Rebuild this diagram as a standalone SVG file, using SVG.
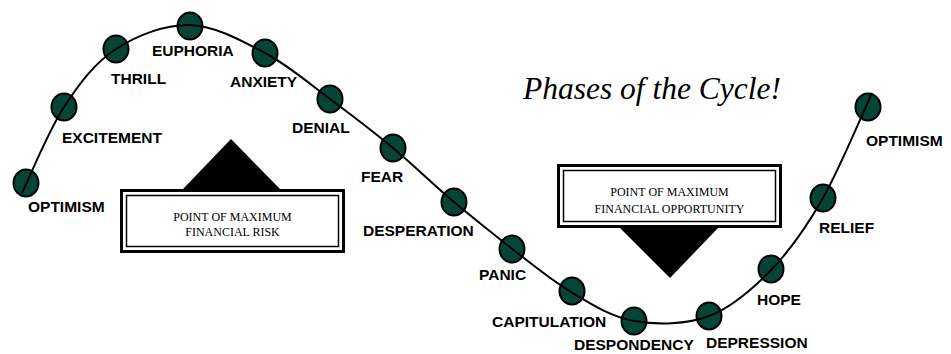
<svg xmlns="http://www.w3.org/2000/svg" width="951" height="354" viewBox="0 0 951 354">
<style>
.dot{fill:#064536;stroke:#000;stroke-width:2}
.lbl{font-family:"Liberation Sans",Arial,sans-serif;font-weight:bold;font-size:15.5px;fill:#000}
.box{font-family:"Liberation Serif","Times New Roman",serif;font-size:12px;fill:#000;text-anchor:middle}
.title{font-family:"Liberation Serif","Times New Roman",serif;font-style:italic;font-size:31.5px;fill:#000}
.outer{fill:#fff;stroke:#000;stroke-width:3}
.inner{fill:none;stroke:#000;stroke-width:1.5}
.curve{fill:none;stroke:#000;stroke-width:2}
</style>
<rect width="951" height="354" fill="#fff"/>
<text class="title" x="523" y="99">Phases of the Cycle!</text>

<g id="risk">
<polygon points="183,189 231,139 280,189" fill="#000"/>
<rect class="outer" x="121.5" y="190.5" width="222" height="61"/>
<rect class="inner" x="126.5" y="195.5" width="212" height="51"/>
<text class="box" x="232.5" y="221">POINT OF MAXIMUM</text>
<text class="box" x="232.5" y="236">FINANCIAL RISK</text>
</g>
<g id="opportunity">
<polygon points="620,228 718,228 670,278" fill="#000"/>
<rect class="outer" x="558.5" y="165.5" width="222" height="61"/>
<rect class="inner" x="563.5" y="170.5" width="212" height="51"/>
<text class="box" x="669.5" y="196">POINT OF MAXIMUM</text>
<text class="box" x="669.5" y="213">FINANCIAL OPPORTUNITY</text>
</g>

<g id="optimism1"><ellipse class="dot" cx="26" cy="183" rx="12.5" ry="13.5"/><text class="lbl" x="28" y="212">OPTIMISM</text></g>
<g id="excitement"><ellipse class="dot" cx="64" cy="107" rx="12.5" ry="13.5"/><text class="lbl" x="62" y="143">EXCITEMENT</text></g>
<g id="thrill"><ellipse class="dot" cx="116" cy="49" rx="12.5" ry="13.5"/><text class="lbl" x="111" y="84">THRILL</text></g>
<g id="euphoria"><ellipse class="dot" cx="190" cy="26" rx="12.5" ry="13.5"/><text class="lbl" x="152" y="56">EUPHORIA</text></g>
<g id="anxiety"><ellipse class="dot" cx="265" cy="53" rx="12.5" ry="13.5"/><text class="lbl" x="230" y="87">ANXIETY</text></g>
<g id="denial"><ellipse class="dot" cx="330" cy="99" rx="12.5" ry="13.5"/><text class="lbl" x="292" y="133">DENIAL</text></g>
<g id="fear"><ellipse class="dot" cx="393" cy="148" rx="12.5" ry="13.5"/><text class="lbl" x="361" y="182">FEAR</text></g>
<g id="desperation"><ellipse class="dot" cx="454" cy="202" rx="12.5" ry="13.5"/><text class="lbl" x="363" y="236">DESPERATION</text></g>
<g id="panic"><ellipse class="dot" cx="512" cy="249" rx="12.5" ry="13.5"/><text class="lbl" x="479" y="280">PANIC</text></g>
<g id="capitulation"><ellipse class="dot" cx="572" cy="291" rx="12.5" ry="13.5"/><text class="lbl" x="492" y="327">CAPITULATION</text></g>
<g id="despondency"><ellipse class="dot" cx="634" cy="321" rx="12.5" ry="13.5"/><text class="lbl" x="574" y="350">DESPONDENCY</text></g>
<g id="depression"><ellipse class="dot" cx="709" cy="316" rx="12.5" ry="13.5"/><text class="lbl" x="706" y="348">DEPRESSION</text></g>
<g id="hope"><ellipse class="dot" cx="771" cy="269" rx="12.5" ry="13.5"/><text class="lbl" x="757" y="305">HOPE</text></g>
<g id="relief"><ellipse class="dot" cx="823" cy="198" rx="12.5" ry="13.5"/><text class="lbl" x="819" y="233">RELIEF</text></g>
<g id="optimism2"><ellipse class="dot" cx="868" cy="107" rx="12.5" ry="13.5"/><text class="lbl" x="866" y="146">OPTIMISM</text></g>

<g id="connectors">
<path class="curve" d="M22,193 C29,178.7 48.3,131 64,107 C79.7,83 95,62.7 116,49 C137,35.3 165.2,24.3 190,25 C214.8,25.7 241.7,40.7 265,53 C288.3,65.3 308.7,83.2 330,99 C351.3,114.8 372.3,130.8 393,148 C413.7,165.2 434.3,185.5 454,202 C473.7,218.5 491.5,232.5 511,248 C530.5,263 550.5,279.7 571,292 C591.5,304.3 611,317 634,321 C657,325 686,324.7 709,316 C732,307.3 753,288.7 772,269 C791,249.3 806.3,227.3 823,198 C839.7,168.7 863.8,110.5 872,93"/>
</g>
</svg>
